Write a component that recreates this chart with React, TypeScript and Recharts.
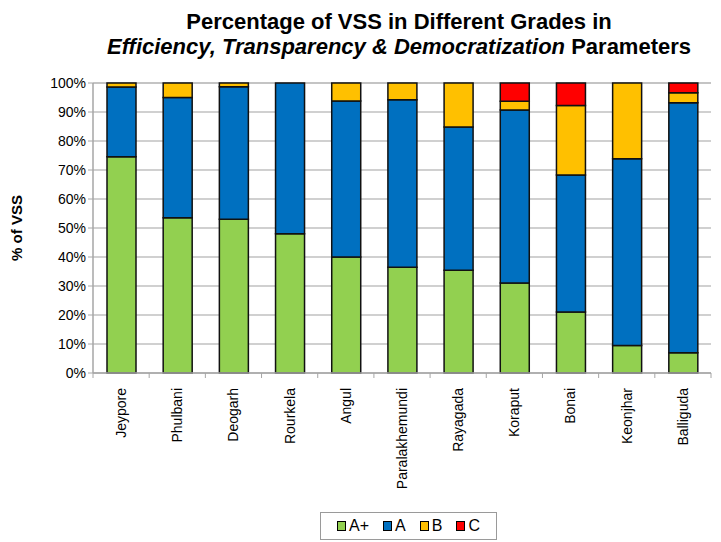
import React from 'react'
import { BarChart, Bar, XAxis, YAxis, CartesianGrid, Legend } from 'recharts'

const districts = ['Jeypore', 'Phulbani', 'Deogarh', 'Rourkela', 'Angul', 'Paralakhemundi', 'Rayagada', 'Koraput', 'Bonai', 'Keonjhar', 'Balliguda']
const gradeAPlus = [74.6, 53.5, 53, 48, 40, 36.5, 35.4, 31, 21, 9.5, 7]
const gradeA = [24, 41.5, 45.7, 52, 53.8, 57.7, 49.4, 59.7, 47.3, 64.4, 86.2]
const gradeB = [1.4, 5, 1.3, 0, 6.2, 5.8, 15.2, 3, 23.9, 26.1, 3.4]
const gradeC = [0, 0, 0, 0, 0, 0, 0, 6.3, 7.8, 0, 3.4]
const yTicks = [0, 10, 20, 30, 40, 50, 60, 70, 80, 90, 100]

const series = [
  { key: 'aplus', name: 'A+', color: '#92D050' },
  { key: 'a', name: 'A', color: '#0070C0' },
  { key: 'b', name: 'B', color: '#FFC000' },
  { key: 'c', name: 'C', color: '#FF0000' }
]

const data = districts.map((name, i) => ({
  name,
  aplus: gradeAPlus[i],
  a: gradeA[i],
  b: gradeB[i],
  c: gradeC[i]
}))

const font = '"Liberation Sans", Arial, sans-serif'
const step = 618 / districts.length

function DistrictTick(props: any) {
  const { x, y, payload, index } = props
  return (
    <g>
      <line x1={x - step / 2} x2={x - step / 2} y1={y - 8} y2={y - 3} stroke="#a6a6a6" />
      {index === districts.length - 1 && (
        <line x1={x + step / 2} x2={x + step / 2} y1={y - 8} y2={y - 3} stroke="#a6a6a6" />
      )}
      <g transform={`translate(${x},${y + 7}) rotate(-90)`}>
        <text x={0} y={0} dy="0.35em" textAnchor="end" fontSize={14} fill="#000" fontFamily={font}>
          {payload.value}
        </text>
      </g>
    </g>
  )
}

function LegendBox() {
  return (
    <div
      style={{
        border: '1px solid #9a9a9a',
        height: 26,
        display: 'flex',
        alignItems: 'center',
        justifyContent: 'center',
        gap: 14,
        fontFamily: font,
        fontSize: 16,
        background: '#fff'
      }}
    >
      {series.map(s => (
        <span key={s.key} style={{ display: 'flex', alignItems: 'center' }}>
          <span
            style={{
              display: 'inline-block',
              width: 7,
              height: 8,
              background: s.color,
              border: '1px solid #000',
              marginRight: 3
            }}
          />
          {s.name}
        </span>
      ))}
    </div>
  )
}

export default function App() {
  return (
    <div style={{ position: 'absolute', left: 0, top: 0, width: 721, height: 542, background: '#fff', fontFamily: font }}>
      <div
        style={{
          position: 'absolute',
          left: 0,
          width: 798,
          top: 9,
          textAlign: 'center',
          fontWeight: 'bold',
          fontSize: 22,
          lineHeight: '25px',
          color: '#000'
        }}
      >
        Percentage of VSS in Different Grades in
        <br />
        <i>Efficiency, Transparency &amp; Democratization</i> Parameters
      </div>
      <BarChart
        width={721}
        height={542}
        data={data}
        margin={{ top: 83, right: 10, left: 0, bottom: 11 }}
        barSize={29}
      >
        <CartesianGrid vertical={false} stroke="#c0c0c0" strokeWidth={1.5} />
        <XAxis
          dataKey="name"
          interval={0}
          height={130}
          tick={<DistrictTick />}
          tickLine={false}
          axisLine={{ stroke: '#a6a6a6', strokeWidth: 1.5 }}
        />
        <YAxis
          width={93}
          domain={[0, 100]}
          ticks={yTicks}
          tickFormatter={v => `${v}%`}
          interval={0}
          tick={{ fontSize: 14, fill: '#000', fontFamily: font }}
          tickLine={{ stroke: '#a6a6a6' }}
          tickSize={5}
          axisLine={{ stroke: '#a6a6a6', strokeWidth: 1.5 }}
          label={{
            value: '% of VSS',
            angle: -90,
            position: 'insideLeft',
            offset: 17,
            style: { fontSize: 15, fontWeight: 'bold', fill: '#000', fontFamily: font, textAnchor: 'middle' }
          }}
        />
        <Legend
          content={<LegendBox />}
          wrapperStyle={{ position: 'absolute', left: 320, top: 512, width: 177, height: 28 }}
        />
        {series.map(s => (
          <Bar
            key={s.key}
            dataKey={s.key}
            name={s.name}
            stackId="grades"
            fill={s.color}
            stroke="#111"
            strokeWidth={1.5}
            isAnimationActive={false}
          />
        ))}
      </BarChart>
    </div>
  )
}
